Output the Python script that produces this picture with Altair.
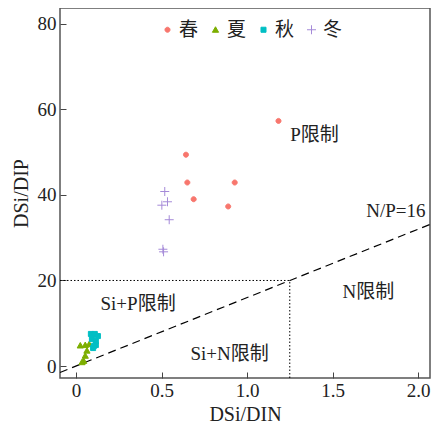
import altair as alt
import pandas as pd

# ---- data ----
seasons = ["春", "夏", "秋", "冬"]
colors = ["#F8766D", "#7CAE00", "#00BFC4", "#A58AD8"]

spring_x = [1.184, 0.643, 0.651, 0.928, 0.688, 0.890]
spring_y = [57.3, 49.4, 42.9, 42.9, 39.0, 37.3]
summer_x = [0.025, 0.054, 0.077, 0.064, 0.054, 0.045, 0.035]
summer_y = [4.8, 4.9, 5.1, 3.6, 2.4, 1.2, 0.9]
autumn_x = [0.087, 0.110, 0.128, 0.093, 0.116, 0.116, 0.105, 0.100]
autumn_y = [7.5, 7.5, 7.0, 6.3, 5.8, 4.9, 4.7, 4.2]
winter_x = [0.519, 0.535, 0.502, 0.545, 0.508, 0.512]
winter_y = [40.8, 38.4, 37.6, 34.2, 27.3, 26.7]

x_ticks = [0, 0.5, 1.0, 1.5, 2.0]
y_ticks = [0, 20, 40, 60, 80]

# N/P = 16 reference line end points
np_line_x = [-0.0936, 2.07]
np_line_y = [-1.50, 33.1]

# dotted limit lines
si_limit_y = 20
si_limit_x = 1.25

labels = ["P限制", "N/P=16", "Si+P限制", "N限制", "Si+N限制"]
label_x = [1.395, 1.870, 0.363, 1.709, 0.898]
label_y = [54.0, 36.3, 14.6, 17.4, 2.7]

# ---- tables ----
rows = []
for s, xs_, ys_ in zip(seasons, [spring_x, summer_x, autumn_x, winter_x],
                       [spring_y, summer_y, autumn_y, winter_y]):
    for a, b in zip(xs_, ys_):
        rows.append({"season": s, "x": a, "y": b})
pts = pd.DataFrame(rows)
line_df = pd.DataFrame({"x": np_line_x, "y": np_line_y})
hrule = pd.DataFrame({"x": [np_line_x[0]], "x2": [si_limit_x], "y": [si_limit_y]})
vrule = pd.DataFrame({"x": [si_limit_x], "y": [-2.8], "y2": [si_limit_y]})
txt = pd.DataFrame({"t": labels, "x": label_x, "y": label_y})

FONT = "Liberation Serif, Noto Sans CJK SC"
XDOM = [-0.0936, 2.07]
YDOM = [-2.8, 83.7]
W, H = 370, 370
TXT = "#222222"

xs = alt.Scale(domain=XDOM, nice=False, zero=False)
ys = alt.Scale(domain=YDOM, nice=False, zero=False)

shapes = [
    "M0.42,0A0.42,0.42,0,1,1,-0.42,0A0.42,0.42,0,1,1,0.42,0Z",
    "M0,-0.5L0.52,0.42L-0.52,0.42Z",
    "M-0.42,-0.42H0.42V0.42H-0.42Z",
    "M-0.75,0H0.75M0,-0.75V0.75",
]

leg = alt.Legend(orient="none", legendX=98, legendY=12, direction="horizontal",
                 title=None, labelFontSize=19, labelFont=FONT, labelColor=TXT,
                 symbolSize=144, symbolStrokeWidth=1, labelOffset=2,
                 columnPadding=7, padding=0)

x_lab_axis = alt.Axis(orient="bottom", values=x_ticks,
                      labelExpr="datum.value == 0 ? '0' : format(datum.value, '.1f')",
                      ticks=False, domain=False, grid=False, labelPadding=3,
                      labelFontSize=19, labelFont=FONT, labelColor=TXT,
                      title="DSi/DIN", titleFont=FONT, titleFontSize=20,
                      titleFontWeight="normal", titleColor=TXT, titlePadding=4)
y_lab_axis = alt.Axis(orient="left", values=y_ticks, format="d",
                      ticks=False, domain=False, grid=False, labelPadding=4,
                      labelFontSize=19, labelFont=FONT, labelColor=TXT,
                      title="DSi/DIP", titleFont=FONT, titleFontSize=20,
                      titleFontWeight="normal", titleColor=TXT, titlePadding=6)

x_tick_axis = alt.Axis(orient="bottom", values=x_ticks, labels=False, domain=False,
                       grid=False, ticks=True, tickSize=6, offset=-6, title=None,
                       tickColor="#444444", tickWidth=1)
y_tick_axis = alt.Axis(orient="left", values=y_ticks, labels=False, domain=False,
                       grid=False, ticks=True, tickSize=6, offset=-6, title=None,
                       tickColor="#444444", tickWidth=1)

dots = dict(color="black", strokeDash=[1.5, 2], strokeWidth=1)
h = alt.Chart(hrule).mark_rule(**dots).encode(
    x=alt.X("x:Q", scale=xs, axis=None), x2="x2:Q",
    y=alt.Y("y:Q", scale=ys, axis=None))
v = alt.Chart(vrule).mark_rule(**dots).encode(
    x=alt.X("x:Q", scale=xs, axis=None),
    y=alt.Y("y:Q", scale=ys, axis=None), y2="y2:Q")

line = alt.Chart(line_df).mark_line(color="black", strokeDash=[8, 5], strokeWidth=1.2).encode(
    x=alt.X("x:Q", scale=xs, axis=x_tick_axis),
    y=alt.Y("y:Q", scale=ys, axis=y_tick_axis))

text = alt.Chart(txt).mark_text(font=FONT, fontSize=19, color=TXT,
                                align="center", baseline="middle").encode(
    x=alt.X("x:Q", scale=xs, axis=None),
    y=alt.Y("y:Q", scale=ys, axis=None),
    text="t:N")

points = alt.Chart(pts).mark_point(filled=True, strokeWidth=1, size=144, opacity=1).encode(
    x=alt.X("x:Q", scale=xs, axis=x_lab_axis),
    y=alt.Y("y:Q", scale=ys, axis=y_lab_axis),
    fill=alt.Fill("season:N", scale=alt.Scale(domain=seasons, range=colors), legend=leg),
    stroke=alt.Stroke("season:N", scale=alt.Scale(domain=seasons, range=colors), legend=leg),
    shape=alt.Shape("season:N", scale=alt.Scale(domain=seasons, range=shapes), legend=leg),
)

chart = alt.layer(h, v, line, text, points).resolve_axis(
    x="independent", y="independent"
).properties(
    width=W, height=H,
    autosize=alt.AutoSizeParams(type="none"),
    padding={"left": 52, "top": 0, "right": 2, "bottom": 46},
).configure(font=FONT).configure_view(stroke="#555555", strokeWidth=1.5)

chart.save("out.html", embed_options={"renderer": "svg", "actions": False})
